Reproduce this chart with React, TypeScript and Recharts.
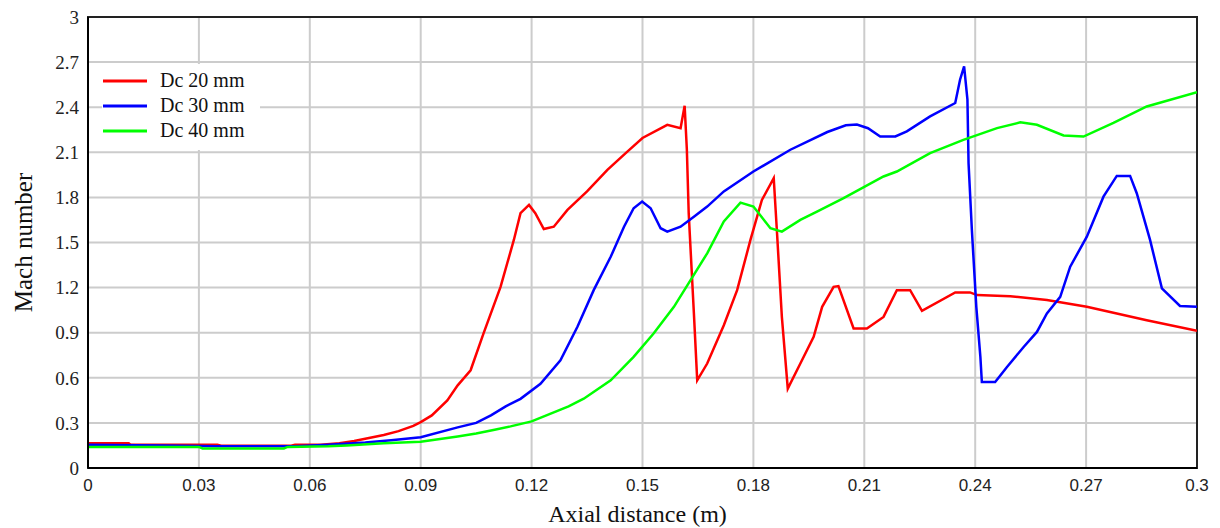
import { CartesianGrid, Legend, Line, LineChart, ReferenceArea, XAxis, YAxis } from "recharts"

document.body.style.margin = "0"

// axial distance (m) and Mach number
const dc20Dist = [
  0, 0.011, 0.0115, 0.035, 0.036, 0.055, 0.056, 0.063, 0.068, 0.072, 0.076, 0.08, 0.084, 0.088, 0.09, 0.093,
  0.0972, 0.1, 0.1035, 0.107, 0.1116, 0.1152, 0.117, 0.1193, 0.121, 0.1233, 0.126, 0.1297, 0.135, 0.1405, 0.1459,
  0.15, 0.1567, 0.1603, 0.1614, 0.162, 0.1625, 0.1639, 0.1648, 0.1675, 0.172, 0.1756, 0.1792, 0.1823, 0.1855,
  0.1864, 0.1877, 0.1893, 0.1927, 0.1963, 0.1986, 0.2017, 0.203, 0.2071, 0.2107, 0.2152, 0.2188, 0.2224, 0.2256,
  0.2346, 0.2386, 0.2405, 0.2495, 0.2594, 0.2702, 0.2864, 0.3,
]
const dc20Mach = [
  0.165, 0.165, 0.155, 0.155, 0.148, 0.148, 0.155, 0.155, 0.165, 0.18, 0.2, 0.22, 0.245, 0.28, 0.305, 0.35,
  0.45, 0.55, 0.65, 0.895, 1.205, 1.517, 1.695, 1.75, 1.695, 1.59, 1.605, 1.717, 1.84, 1.983, 2.105,
  2.195, 2.283, 2.26, 2.41, 2.117, 1.695, 1.03, 0.583, 0.695, 0.95, 1.183, 1.517, 1.783, 1.928,
  1.56, 1.005, 0.528, 0.695, 0.872, 1.072, 1.205, 1.21, 0.928, 0.928, 1.005, 1.183, 1.183, 1.045,
  1.168, 1.168, 1.15, 1.143, 1.117, 1.072, 0.983, 0.912,
]

const dc30Dist = [
  0, 0.02, 0.035, 0.056, 0.065, 0.075, 0.082, 0.09, 0.1, 0.105, 0.109, 0.113, 0.117, 0.1224, 0.1278, 0.1324,
  0.1368, 0.1414, 0.145, 0.1476, 0.1499, 0.1522, 0.1549, 0.1567, 0.1603, 0.1639, 0.1675, 0.172, 0.18, 0.19, 0.2,
  0.205, 0.208, 0.211, 0.2143, 0.2184, 0.2215, 0.2278, 0.2346, 0.2359, 0.237, 0.2379, 0.2382, 0.2391, 0.2403,
  0.2414, 0.2418, 0.2454, 0.2486, 0.2531, 0.2567, 0.2594, 0.263, 0.2657, 0.2702, 0.2747, 0.2783, 0.2819, 0.2837,
  0.2873, 0.2905, 0.2954, 0.3,
]
const dc30Mach = [
  0.155, 0.15, 0.145, 0.145, 0.155, 0.17, 0.185, 0.205, 0.27, 0.3, 0.35, 0.41, 0.46, 0.56, 0.717, 0.939,
  1.183, 1.405, 1.605, 1.728, 1.772, 1.728, 1.595, 1.572, 1.605, 1.672, 1.739, 1.84, 1.972, 2.117, 2.235,
  2.28, 2.285, 2.26, 2.205, 2.205, 2.239, 2.339, 2.428, 2.583, 2.672, 2.45, 2.028, 1.583, 1.072,
  0.739, 0.572, 0.572, 0.672, 0.805, 0.905, 1.028, 1.139, 1.339, 1.539, 1.805, 1.943, 1.943, 1.828,
  1.517, 1.195, 1.078, 1.072,
]

const dc40Dist = [
  0, 0.03, 0.031, 0.053, 0.054, 0.065, 0.07, 0.08, 0.09, 0.1, 0.105, 0.11, 0.1143, 0.12, 0.125, 0.13, 0.1341,
  0.1414, 0.1476, 0.153, 0.1585, 0.163, 0.1675, 0.172, 0.1765, 0.18, 0.1846, 0.1877, 0.1927, 0.1972, 0.2044,
  0.2152, 0.2188, 0.2278, 0.2368, 0.2459, 0.2522, 0.2567, 0.2639, 0.2693, 0.2774, 0.2864, 0.3,
]
const dc40Mach = [
  0.14, 0.14, 0.13, 0.13, 0.14, 0.145, 0.15, 0.165, 0.175, 0.21, 0.23, 0.255, 0.277, 0.31, 0.36, 0.41, 0.461,
  0.583, 0.739, 0.895, 1.072, 1.25, 1.428, 1.64, 1.765, 1.739, 1.595, 1.572, 1.65, 1.705, 1.795,
  1.939, 1.972, 2.095, 2.183, 2.261, 2.299, 2.283, 2.212, 2.205, 2.295, 2.405, 2.499,
]

const xTicks = [0, 0.03, 0.06, 0.09, 0.12, 0.15, 0.18, 0.21, 0.24, 0.27, 0.3]
const xTickLabels = ["0", "0.03", "0.06", "0.09", "0.12", "0.15", "0.18", "0.21", "0.24", "0.27", "0.3"]
const yTicks = [0, 0.3, 0.6, 0.9, 1.2, 1.5, 1.8, 2.1, 2.4, 2.7, 3]
const yTickLabels = ["0", "0.3", "0.6", "0.9", "1.2", "1.5", "1.8", "2.1", "2.4", "2.7", "3"]

const zip = (xs: number[], ys: number[]) => xs.map((x, i) => ({ x, y: ys[i] }))

const series = [
  { name: "Dc 20 mm", color: "#ff0000", data: zip(dc20Dist, dc20Mach) },
  { name: "Dc 30 mm", color: "#0000ff", data: zip(dc30Dist, dc30Mach) },
  { name: "Dc 40 mm", color: "#00ff00", data: zip(dc40Dist, dc40Mach) },
]

const renderLegend = () => (
  <div style={{ background: "#fff", width: 158, height: 86, paddingTop: 4, boxSizing: "border-box" }}>
    {series.map((s) => (
      <div key={s.name} style={{ display: "flex", alignItems: "center", height: 25 }}>
        <svg width={44} height={4} style={{ marginLeft: 1 }}>
          <line x1={0} y1={2} x2={44} y2={2} stroke={s.color} strokeWidth={3} />
        </svg>
        <span style={{ marginLeft: 13, fontFamily: "Liberation Serif", fontSize: 20, lineHeight: "25px", color: "#111" }}>
          {s.name}
        </span>
      </div>
    ))}
  </div>
)

export default function App() {
  return (
    <LineChart width={1220} height={528} margin={{ top: 17, right: 23, bottom: 0, left: 0 }}>
      <CartesianGrid stroke="#cccccc" strokeWidth={2} />
      <XAxis
        type="number"
        dataKey="x"
        domain={[0, 0.3]}
        ticks={xTicks}
        interval={0}
        allowDataOverflow
        height={60}
        tickSize={0}
        tickMargin={11}
        tickLine={false}
        axisLine={{ stroke: "#000", strokeWidth: 2 }}
        tickFormatter={(v: number) => xTickLabels[xTicks.indexOf(v)] ?? String(v)}
        tick={{ fontFamily: "Liberation Sans", fontSize: 17, fill: "#222" }}
        label={{
          value: "Axial distance (m)",
          position: "insideBottom",
          offset: 6,
          dx: -5,
          fontFamily: "Liberation Serif",
          fontSize: 24,
          fill: "#111",
        }}
      />
      <YAxis
        type="number"
        domain={[0, 3]}
        ticks={yTicks}
        interval={0}
        allowDataOverflow
        width={88}
        tickSize={0}
        tickMargin={9}
        tickLine={false}
        axisLine={{ stroke: "#000", strokeWidth: 2 }}
        tickFormatter={(v: number) => yTickLabels[yTicks.indexOf(v)] ?? String(v)}
        tick={{ fontFamily: "Liberation Serif", fontSize: 19, fill: "#222" }}
        label={{
          value: "Mach number",
          angle: -90,
          position: "insideLeft",
          offset: 23,
          fontFamily: "Liberation Serif",
          fontSize: 25,
          fill: "#111",
          style: { textAnchor: "middle" },
        }}
      />
      <ReferenceArea x1={0} x2={0.3} y1={0} y2={3} fill="none" stroke="#222" strokeWidth={2} />
      <Legend
        layout="vertical"
        align="center"
        verticalAlign="middle"
        content={renderLegend}
        wrapperStyle={{ left: 102, top: 64, width: 158 }}
      />
      {series.map((s) => (
        <Line
          key={s.name}
          data={s.data}
          dataKey="y"
          name={s.name}
          type="linear"
          stroke={s.color}
          strokeWidth={2.5}
          dot={false}
          activeDot={false}
          isAnimationActive={false}
        />
      ))}
    </LineChart>
  )
}
